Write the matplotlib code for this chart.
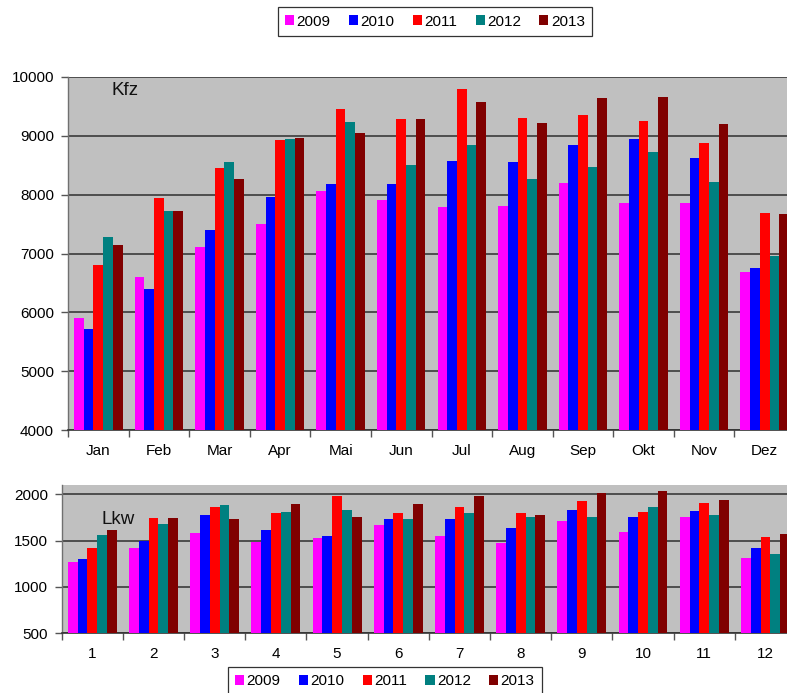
import numpy as np
import matplotlib
matplotlib.use("Agg")
import matplotlib.pyplot as plt
from matplotlib.patches import Patch

plt.rcParams['font.family'] = ['Liberation Sans', 'DejaVu Sans']

years = ["2009", "2010", "2011", "2012", "2013"]
colors = ["#FF00FF", "#0000FF", "#FF0000", "#008080", "#800000"]

months_kfz = ["Jan", "Feb", "Mar", "Apr", "Mai", "Jun", "Jul", "Aug", "Sep", "Okt", "Nov", "Dez"]
months_lkw = ["1", "2", "3", "4", "5", "6", "7", "8", "9", "10", "11", "12"]

kfz_2009 = [5910, 6600, 7110, 7500, 8060, 7910, 7790, 7800, 8200, 7860, 7850, 6690]
kfz_2010 = [5710, 6400, 7400, 7960, 8180, 8180, 8570, 8560, 8840, 8950, 8620, 6750]
kfz_2011 = [6800, 7950, 8460, 8930, 9460, 9290, 9800, 9310, 9360, 9250, 8870, 7690]
kfz_2012 = [7280, 7730, 8550, 8950, 9230, 8500, 8840, 8260, 8470, 8730, 8210, 6950]
kfz_2013 = [7140, 7730, 8260, 8960, 9050, 9280, 9570, 9220, 9640, 9660, 9200, 7670]

lkw_2009 = [1270, 1420, 1580, 1480, 1530, 1670, 1550, 1470, 1710, 1590, 1760, 1310]
lkw_2010 = [1300, 1500, 1780, 1610, 1550, 1730, 1730, 1640, 1830, 1760, 1820, 1420]
lkw_2011 = [1420, 1740, 1860, 1800, 1980, 1800, 1860, 1800, 1930, 1810, 1910, 1540]
lkw_2012 = [1560, 1680, 1880, 1810, 1830, 1730, 1800, 1760, 1750, 1860, 1780, 1360]
lkw_2013 = [1610, 1740, 1730, 1900, 1760, 1900, 1980, 1780, 2010, 2030, 1940, 1570]

kfz_series = [kfz_2009, kfz_2010, kfz_2011, kfz_2012, kfz_2013]
lkw_series = [lkw_2009, lkw_2010, lkw_2011, lkw_2012, lkw_2013]

W, H = 787, 693
fig = plt.figure(figsize=(W / 100, H / 100), dpi=100)
fig.patch.set_facecolor("white")

ax1 = fig.add_axes([68 / W, 1 - 430 / H, 727 / W, 353 / H])
ax2 = fig.add_axes([61.7 / W, 1 - 633.3 / H, 734.3 / W, 148.3 / H])

bar_w = 0.16


def draw_panel(ax, labels, series, ylim, yticks, title, title_pos):
    x = np.arange(len(labels))
    for i, (vals, col) in enumerate(zip(series, colors)):
        ax.bar(x + (i - 2) * bar_w, vals, width=bar_w, color=col,
               edgecolor="none", zorder=3)
    ax.set_facecolor("#C0C0C0")
    ax.set_xlim(-0.5, len(labels) - 0.5)
    ax.set_ylim(*ylim)
    ax.set_yticks(yticks)
    ax.set_yticklabels([str(v) for v in yticks])
    ax.yaxis.grid(True, color="#3a3a3a", linewidth=1.2, zorder=1)
    ax.set_axisbelow(True)
    # month labels centred, tick marks on the category boundaries
    ax.set_xticks(x)
    ax.set_xticklabels(labels)
    ax.set_xticks(np.arange(len(labels) + 1) - 0.5, minor=True)
    ax.tick_params(axis="x", which="major", length=0, pad=10, labelsize=11)
    ax.tick_params(axis="x", which="minor", length=5, width=1, color="#555555",
                   direction="out")
    ax.tick_params(axis="y", length=5, width=1, color="#555555", pad=5,
                   labelsize=11)
    for s in ("top", "right"):
        ax.spines[s].set_visible(False)
    ax.spines["left"].set_color("#707070")
    ax.spines["left"].set_linewidth(1.0)
    ax.spines["bottom"].set_color("#333333")
    ax.spines["bottom"].set_linewidth(1.2)
    ax.text(title_pos[0], title_pos[1], title, transform=ax.transAxes,
            fontsize=13.5, va="baseline", ha="left", color="#111111", zorder=5)


draw_panel(ax1, months_kfz, kfz_series, (4000, 10000),
           [4000, 5000, 6000, 7000, 8000, 9000, 10000], "Kfz", (0.06, 0.95))
draw_panel(ax2, months_lkw, lkw_series, (500, 2100),
           [500, 1000, 1500, 2000], "Lkw", (0.054, 0.735))

handles = [Patch(facecolor=c, edgecolor="none", label=y) for c, y in zip(colors, years)]
leg_kw = dict(ncol=5, fontsize=11, frameon=True, fancybox=False,
              handlelength=0.6, handleheight=0.6, handletextpad=0.15,
              columnspacing=1.2, borderpad=0.5, borderaxespad=0.0,
              edgecolor="#333333", framealpha=1.0)
leg1 = fig.legend(handles=handles, loc="center",
                  bbox_to_anchor=(435 / W, 1 - 21.5 / H), **leg_kw)
leg1.get_frame().set_linewidth(0.9)
leg2 = fig.legend(handles=handles, loc="upper center",
                  bbox_to_anchor=(385 / W, 1 - 666.7 / H), **leg_kw)
leg2.get_frame().set_linewidth(0.9)

fig.savefig("out.png", dpi=100, facecolor="white")
